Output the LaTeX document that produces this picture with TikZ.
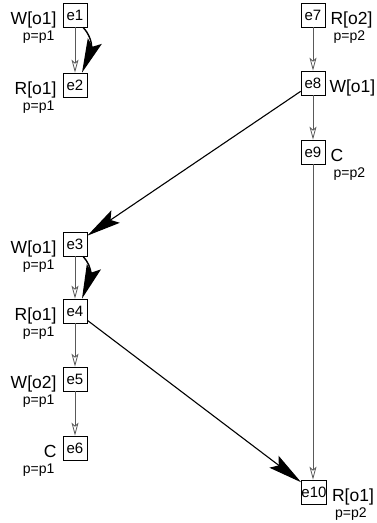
\documentclass[tikz,border=0pt]{standalone}
\usepackage{fontspec}
\setmainfont{Liberation Sans}
\usetikzlibrary{arrows.meta,bending}

\tikzset{
  ev/.style={draw, line width=0.7pt, minimum width=24pt, minimum height=24pt,
    inner sep=0pt, fill=white, font=\fontsize{15}{17}\selectfont},
  oplbl/.style={font=\fontsize{17.5}{20}\selectfont, inner sep=0pt},
  proclbl/.style={font=\fontsize{14}{16}\selectfont, inner sep=0pt},
  po/.style={draw=black!65, line width=0.8pt,
    -{Stealth[open, length=13pt, width=7pt, inset=3pt, fill=white]}},
  rf/.style={draw=black, line width=1.1pt,
    -{Stealth[length=34pt, width=15pt, inset=6pt, flex]}},
  % labels on the left / right of an event box
  leftop/.style={oplbl, anchor=base east, xshift=-6pt, yshift=-9pt},
  leftproc/.style={proclbl, anchor=base east, xshift=-8pt, yshift=-25pt},
  rightop/.style={oplbl, anchor=base west, xshift=5pt, yshift=-9pt},
  rightproc/.style={proclbl, anchor=base west, xshift=8pt, yshift=-25pt},
}

\begin{document}
\begin{tikzpicture}[x=1pt,y=-1pt]
  \fill[white] (0,0) rectangle (377,523);
  \useasboundingbox (0,0) rectangle (377,523);

  % process p1
  \node[ev] (e1) at (75,15)  {e1};
  \node[ev] (e2) at (75,85)  {e2};
  \node[ev] (e3) at (75,244) {e3};
  \node[ev] (e4) at (75,311) {e4};
  \node[ev] (e5) at (75,379) {e5};
  \node[ev] (e6) at (75,448) {e6};
  % process p2
  \node[ev] (e7)  at (313,15)  {e7};
  \node[ev] (e8)  at (313,83)  {e8};
  \node[ev] (e9)  at (313,152) {e9};
  \node[ev] (e10) at (314,492) {e10};

  % operation and process labels
  \node[leftop] (l1) at (e1.west) {W[o1]};
  \node[leftproc] (p1) at (e1.west) {p=p1};
  \node[leftop] (l2) at (e2.west) {R[o1]};
  \node[leftproc] (p2) at (e2.west) {p=p1};
  \node[leftop] (l3) at (e3.west) {W[o1]};
  \node[leftproc] (p3) at (e3.west) {p=p1};
  \node[leftop] (l4) at (e4.west) {R[o1]};
  \node[leftproc] (p4) at (e4.west) {p=p1};
  \node[leftop] (l5) at (e5.west) {W[o2]};
  \node[leftproc] (p5) at (e5.west) {p=p1};
  \node[leftop] (l6) at (e6.west) {C};
  \node[leftproc] (p6) at (e6.west) {p=p1};

  \node[rightop] (l7) at (e7.east) {R[o2]};
  \node[rightproc] (p7) at (e7.east) {p=p2};
  \node[rightop, xshift=-1pt] (l8) at (e8.east) {W[o1]};
  \node[rightop] (l9) at (e9.east) {C};
  \node[rightproc] (p9) at (e9.east) {p=p2};
  \node[rightop] (l10) at (e10.east) {R[o1]};
  \node[rightproc] (p10) at (e10.east) {p=p2};

  % program order
  \draw[po] (e1) -- (e2);
  \draw[po] (e3) -- (e4);
  \draw[po] (e4) -- (e5);
  \draw[po] (e5) -- (e6);
  \draw[po] (e7) -- (e8);
  \draw[po] (e8) -- (e9);
  \draw[po] (e9.south) -- (e10.north -| e9.south);

  % reads-from
  \draw[rf, line width=1.4pt] ([xshift=8pt]e1.south) to[bend left=45] ([xshift=7pt]e2.north);
  \draw[rf, line width=1.4pt] ([xshift=8pt]e3.south) to[bend left=45] ([xshift=7pt]e4.north);
  \draw[rf] (e8) -- (e3);
  \draw[rf] (e4) -- (e10);
\end{tikzpicture}
\end{document}
